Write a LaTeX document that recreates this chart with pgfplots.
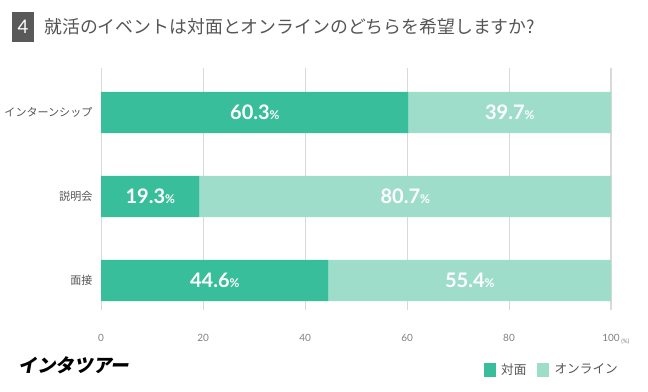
\documentclass[border=0pt]{standalone}
\usepackage{pgfplots}
\pgfplotsset{compat=1.18}
\usepackage{fontspec}
\setmainfont{Lato}
\newfontfamily\jp{Noto Sans CJK JP}
\newfontfamily\logo[FakeSlant=0.18]{Noto Sans CJK JP}
\definecolor{dark}{HTML}{38BE9B}
\definecolor{light}{HTML}{9FDDCB}
\definecolor{txt}{HTML}{555555}
\definecolor{tick}{HTML}{808080}
\definecolor{grid}{HTML}{D9D9D9}
\definecolor{box}{HTML}{595959}
\newcommand\pc{{\fontsize{9}{9}\selectfont\%}}
\tikzset{lab/.style={text=white,font=\bfseries\fontsize{15}{15}\selectfont}}
\begin{document}
\begin{tikzpicture}
\begin{scope}[x=0.75pt,y=0.75pt]
\useasboundingbox (0,0) rectangle (648,392);
\fill[box] (12,350) rectangle (34,380);
\node[text=white,font=\fontsize{14}{14}\selectfont] at (23,365) {4};
\node[anchor=west,text=txt,font=\jp\fontsize{13.4}{14}\selectfont,inner sep=0pt] at (44,365) {就活のイベントは対面とオンラインのどちらを希望しますか?};
\node[anchor=west,font=\logo\bfseries\fontsize{14}{16}\selectfont,inner sep=0pt] at (18,27) {インタツアー};
\node[anchor=west,text=tick,font=\fontsize{4.5}{5}\selectfont,inner sep=0pt] at (621,50) {(\%)};
\end{scope}
\begin{axis}[
  at={(75.75pt,61.5pt)}, anchor=south west,
  scale only axis, width=382.5pt, height=181.5pt,
  xbar stacked, reverse stacked plots=false, bar width=0.49,
  xmin=0, xmax=100, ymin=-0.351, ymax=2.53,
  ytick={0,1,2}, yticklabels={面接,説明会,インターンシップ},
  xtick={0,20,40,60,80,100},
  xmajorgrids, grid style={draw=grid, line width=0.8pt},
  axis line style={draw=none},
  major tick length=0pt,
  xticklabel style={font=\fontsize{7.5}{9}\selectfont, text=tick, yshift=-15pt},
  /pgf/number format/assume math mode=true,
  yticklabel style={font=\jp\fontsize{8.3}{9}\selectfont, text=txt, xshift=-3pt},
  legend style={at={(1.027,-0.248)}, anchor=east, draw=none, fill=none,
    legend columns=2, font=\jp\fontsize{9.5}{10}\selectfont, text=txt,
    /tikz/every odd column/.append style={column sep=2pt},
    /tikz/every even column/.append style={column sep=6pt}},
  legend image code/.code={\fill[#1] (0pt,-5pt) rectangle (9pt,5pt);},
]
\addplot[fill=dark, draw=none] coordinates {(44.6,0) (19.3,1) (60.3,2)};
\addplot[fill=light, draw=none] coordinates {(55.4,0) (80.7,1) (39.7,2)};
\legend{対面,オンライン}
\node[lab] at (axis cs:30.15,2) {60.3\pc};
\node[lab] at (axis cs:80.15,2) {39.7\pc};
\node[lab] at (axis cs:9.65,1) {19.3\pc};
\node[lab] at (axis cs:59.65,1) {80.7\pc};
\node[lab] at (axis cs:22.3,0) {44.6\pc};
\node[lab] at (axis cs:72.3,0) {55.4\pc};
\end{axis}
\end{tikzpicture}
\end{document}
